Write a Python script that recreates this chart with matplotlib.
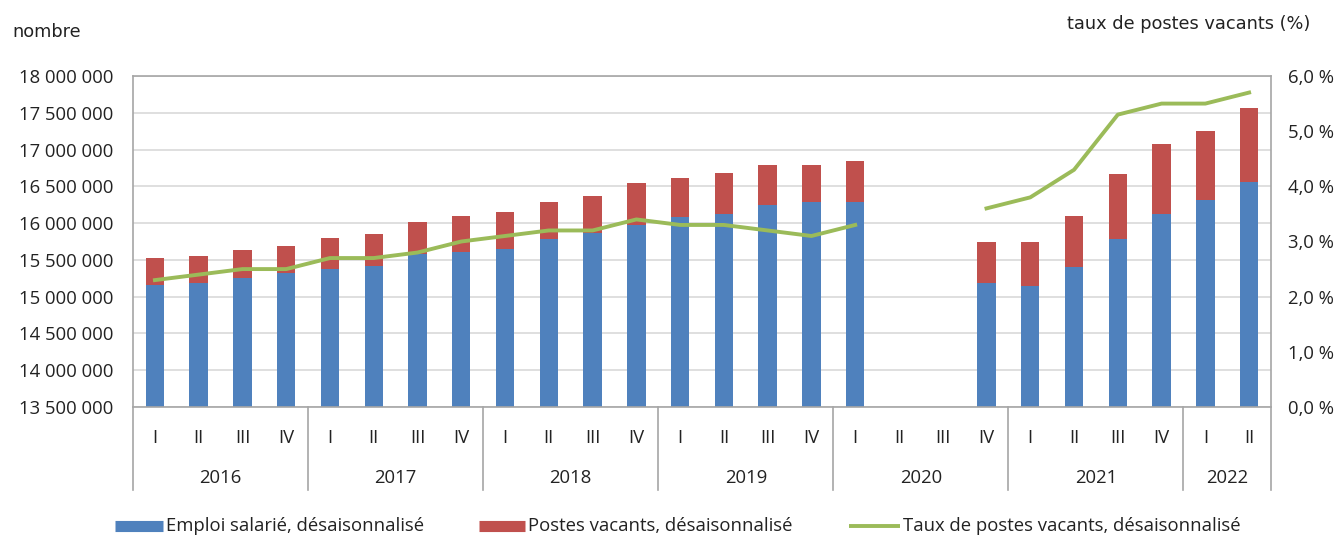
import numpy as np
import matplotlib.pyplot as plt
from matplotlib.lines import Line2D
import matplotlib.transforms as mtransforms

plt.rcParams['font.family'] = ['Open Sans', 'DejaVu Sans']

# quarters 2016 I .. 2022 II (2020 II and III missing)
years = ["2016", "2017", "2018", "2019", "2020", "2021", "2022"]
quarters = ["I", "II", "III", "IV"] * 6 + ["I", "II"]
emploi = [15.165, 15.19, 15.255, 15.324, 15.374, 15.42, 15.574, 15.61,
          15.646, 15.78, 15.87, 15.97, 16.08, 16.13, 16.245, 16.29,
          16.29, np.nan, np.nan, 15.18, 15.14, 15.397, 15.78, 16.13,
          16.31, 16.56]
postes = [0.355, 0.365, 0.375, 0.366, 0.422, 0.435, 0.436, 0.49,
          0.509, 0.51, 0.50, 0.57, 0.54, 0.555, 0.55, 0.50,
          0.55, np.nan, np.nan, 0.565, 0.605, 0.703, 0.89, 0.94,
          0.94, 1.00]
taux = [2.3, 2.4, 2.5, 2.5, 2.7, 2.7, 2.8, 3.0,
        3.1, 3.2, 3.2, 3.4, 3.3, 3.3, 3.2, 3.1,
        3.3, np.nan, np.nan, 3.6, 3.8, 4.3, 5.3, 5.5,
        5.5, 5.7]

blue = "#4F81BD"
red = "#C0504D"
green = "#9BBB59"
edge = "#A6A6A6"
txt = "#222222"
fs = 13.3

emp = np.array(emploi) * 1e6
vac = np.array(postes) * 1e6
x = np.arange(len(quarters))

W, H = 1341, 536
fig = plt.figure(figsize=(W / 100, H / 100), dpi=100)
ax = fig.add_axes([0.0992, 0.2407, 0.8486, 0.6175])
ax.bar(x, emp, width=0.42, color=blue, zorder=2)
ax.bar(x, vac, width=0.42, bottom=emp, color=red, zorder=2)
ax.set_xlim(-0.5, len(x) - 0.5)
ax.set_ylim(13.5e6, 18e6)
ax.set_yticks(np.arange(13.5e6, 18.01e6, 0.5e6))
ax.set_yticklabels([f"{int(v):,}".replace(",", " ") for v in np.arange(13.5e6, 18.01e6, 0.5e6)])
ax.grid(axis="y", color="#D9D9D9", lw=1.2, zorder=0)
ax.set_axisbelow(True)
for s in ax.spines.values():
    s.set_color(edge)
    s.set_linewidth(1.2)
ax.tick_params(axis="y", length=0, labelsize=fs, pad=14, colors=txt)
ax.set_xticks(x)
ax.set_xticklabels(quarters)
ax.tick_params(axis="x", length=0, labelsize=fs, pad=16, colors=txt)

ax2 = ax.twinx()
ax2.plot(x, taux, color=green, lw=2.8, zorder=3)
ax2.set_ylim(0, 6)
ax2.set_yticks(np.arange(0, 6.01, 1))
ax2.set_yticklabels([f"{v:.1f} %".replace(".", ",") for v in np.arange(0, 6.01, 1)])
ax2.tick_params(axis="y", length=0, labelsize=fs, pad=12, colors=txt)
for s in ax2.spines.values():
    s.set_visible(False)

# year groups below the quarters
trans = mtransforms.blended_transform_factory(ax.transData, ax.transAxes)
starts = [0, 4, 8, 12, 16, 20, 24]
ends = [4, 8, 12, 16, 20, 24, 26]
for yr, a, b in zip(years, starts, ends):
    ax.text((a + b - 1) / 2, -0.215, yr, transform=trans, ha="center", va="center",
            fontsize=fs, color=txt)
for a in starts + [26]:
    ax.plot([a - 0.5, a - 0.5], [0, -0.25], transform=trans, color=edge, lw=1.2,
            clip_on=False)

fig.text(12 / W, 1 - 32 / H, "nombre", fontsize=12.8, color=txt, va="center",
         family="DejaVu Sans")
fig.text(1310 / W, 1 - 24 / H, "taux de postes vacants (%)", fontsize=12.8, color=txt,
         va="center", ha="right", family="DejaVu Sans")

# legend, drawn entry by entry
leg_y = 1 - 526 / H
entries = [(blue, 8, 115, 163, "Emploi salarié, désaisonnalisé"),
           (red, 8, 479, 525, "Postes vacants, désaisonnalisé"),
           (green, 2.8, 849, 900, "Taux de postes vacants, désaisonnalisé")]
for col, lw, x0, x1, lab in entries:
    fig.add_artist(Line2D([x0 / W, x1 / W], [leg_y, leg_y], color=col, lw=lw,
                          solid_capstyle="butt", transform=fig.transFigure))
    fig.text((x1 + 3) / W, leg_y, lab, fontsize=fs, color=txt, va="center")

fig.savefig("out.png", dpi=100)
